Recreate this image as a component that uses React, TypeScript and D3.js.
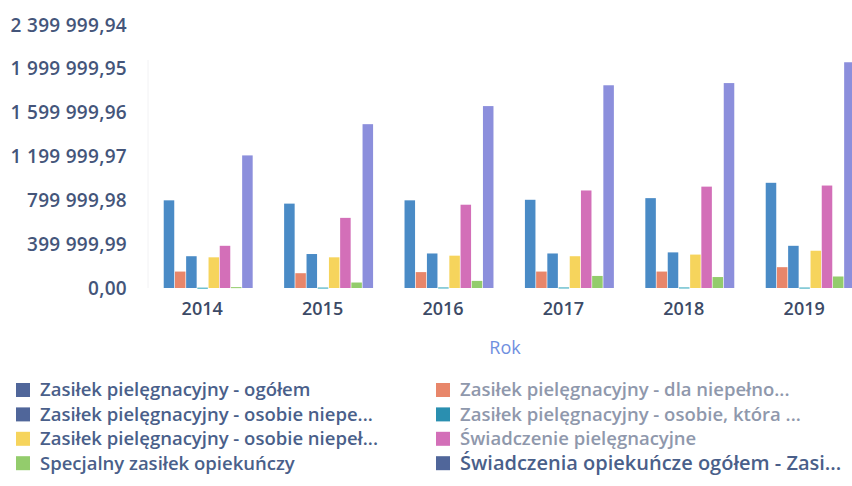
import React from "react";
import * as d3 from "d3";

const years = ["2014", "2015", "2016", "2017", "2018", "2019"];
const seriesNames = [
  "Zasiłek pielęgnacyjny - ogółem",
  "Zasiłek pielęgnacyjny - dla niepełno...",
  "Zasiłek pielęgnacyjny - osobie niepe...",
  "Zasiłek pielęgnacyjny - osobie, która ...",
  "Zasiłek pielęgnacyjny -  osobie niepeł...",
  "Świadczenie pielęgnacyjne",
  "Specjalny zasiłek opiekuńczy",
  "Świadczenia opiekuńcze ogółem - Zasi...",
];
// values per series, indexed by year
const s1 = [800000, 770000, 800000, 805000, 820000, 960000];
const s2 = [150000, 135000, 145000, 150000, 150000, 190000];
const s3 = [290000, 310000, 315000, 315000, 325000, 385000];
const s4 = [3000, 4000, 5000, 5000, 5000, 4000];
const s5 = [280000, 280000, 295000, 290000, 305000, 340000];
const s6 = [385000, 640000, 760000, 890000, 925000, 935000];
const s7 = [8000, 50000, 65000, 110000, 100000, 105000];
const s8 = [1210000, 1495000, 1660000, 1850000, 1870000, 2060000];
const allSeries = [s1, s2, s3, s4, s5, s6, s7, s8];
const yTicks = [0, 1, 2, 3, 4, 5, 6].map((k) => k * 399999.99);

const barColors = ["#4a8bc6", "#e8866a", "#4a8bc6", "#2aa3b8", "#f6d45c", "#d36fb8", "#93cc6c", "#8c8fdc"];
const legendColors = ["#50669a", "#e8866a", "#50669a", "#2a8fb0", "#f6d45c", "#d36fb8", "#93cc6c", "#50669a"];
const legendTextColors = ["#4a5f8a", "#8f98ac", "#4a5f8a", "#8f98ac", "#4a5f8a", "#8f98ac", "#4a5f8a", "#4a5f8a"];
const legendFontSizes = [18.5, 18.5, 18.5, 18.5, 18.5, 18.5, 18.5, 20];

const fmt = d3.formatLocale({ decimal: ",", thousands: " ", grouping: [3], currency: ["", " zł"] }).format(",.2f");

export default function App() {
  const W = 852, H = 486;
  const x = d3.scaleBand<string>().domain(years).range([148, 148 + 6 * 120.4]).paddingInner(0.25).paddingOuter(0.125);
  const xi = d3.scaleBand<number>().domain(d3.range(8)).range([0, x.bandwidth()]).padding(0.06);
  const y = d3.scaleLinear().domain([0, 2399999.94]).range([288, 25]);
  const font = "'Open Sans', 'DejaVu Sans', sans-serif";
  return (
    <svg width={W} height={H} style={{ position: "absolute", left: 0, top: 0, background: "#fff" }} fontFamily={font}>
      <line x1={148} x2={148} y1={60} y2={288} stroke="#f2f2f4" />
      {yTicks.map((t) => (
        <text key={t} x={127} y={y(t)} dy="0.35em" textAnchor="end" fontSize={19} letterSpacing={0.3} fontWeight={600} fill="#44557a">
          {fmt(t)}
        </text>
      ))}
      {years.map((yr, yi) => (
        <g key={yr} transform={`translate(${x(yr)},0)`}>
          {allSeries.map((s, si) => (
            <rect key={si} x={xi(si)} y={y(s[yi])} width={xi.bandwidth()} height={Math.max(1, y(0) - y(s[yi]))} fill={barColors[si]} />
          ))}
          <text x={x.bandwidth() / 2 - 6} y={309} dy="0.35em" textAnchor="middle" fontSize={18} fontWeight={600} fill="#3c4a66">
            {yr}
          </text>
        </g>
      ))}
      <text x={505} y={348} dy="0.35em" textAnchor="middle" fontSize={18} fill="#6f8fe0">Rok</text>
      {seriesNames.map((name, i) => {
        const col = i % 2;
        const row = Math.floor(i / 2);
        const lx = col === 0 ? 16 : 436;
        const ly = 390 + row * 24.4;
        return (
          <g key={name}>
            <rect x={lx} y={ly - 7} width={14} height={14} fill={legendColors[i]} />
            <text x={lx + 24} y={ly} dy="0.35em" fontSize={legendFontSizes[i]} fontWeight={600} fill={legendTextColors[i]}>
              {name}
            </text>
          </g>
        );
      })}
    </svg>
  );
}
